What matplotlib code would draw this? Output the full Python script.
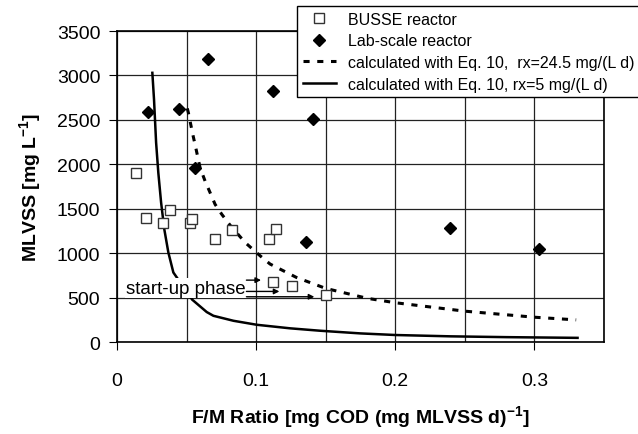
import matplotlib.pyplot as plt
from matplotlib.ticker import MultipleLocator

plt.rcParams['font.family'] = ['Liberation Sans', 'DejaVu Sans']

# BUSSE reactor (open squares)
busse_fm = [0.014, 0.021, 0.033, 0.038, 0.0525, 0.054, 0.0705, 0.083, 0.109, 0.114, 0.112, 0.126, 0.150]
busse_mlvss = [1900, 1400, 1340, 1490, 1340, 1390, 1160, 1265, 1165, 1275, 680, 630, 530]

# Lab-scale reactor (filled diamonds)
lab_fm = [0.022, 0.0446, 0.0655, 0.056, 0.112, 0.141, 0.136, 0.239, 0.303]
lab_mlvss = [2590, 2625, 3180, 1960, 2820, 2510, 1130, 1290, 1045]

# calculated curve, rx = 24.5 mg/(L d)
calc24_fm = [0.0505, 0.0513, 0.0542, 0.0566, 0.0597, 0.0633, 0.0669, 0.0705, 0.0753,
             0.0813, 0.0921, 0.1029, 0.110, 0.129, 0.150, 0.180, 0.200, 0.250, 0.300, 0.330]
calc24_mlvss = [2630, 2580, 2356, 2188, 1963, 1813, 1683, 1551, 1439,
                1316, 1122, 972, 880, 729, 606, 494, 445, 350, 282, 252]

# calculated curve, rx = 5 mg/(L d)
calc5_fm = [0.0254, 0.0266, 0.0281, 0.0297, 0.0317, 0.034, 0.0369, 0.0405, 0.054,
            0.0645, 0.0693, 0.0837, 0.1005, 0.1245, 0.146, 0.175, 0.200, 0.240, 0.280, 0.331]
calc5_mlvss = [3030, 2730, 2245, 1905, 1570, 1270, 1010, 785, 480,
               340, 298, 242, 197, 157, 130, 100, 82, 67, 58, 50]

# start-up phase arrows: end points
startup_fm = [0.1065, 0.1197, 0.1448]
startup_mlvss = [699, 572, 512]


def main():
    fig = plt.figure(figsize=(6.38, 4.35), dpi=100)
    ax = fig.add_axes([0.1834, 0.2108, 0.7633, 0.7156])

    ax.plot(calc24_fm, calc24_mlvss, color='black', lw=2.2, ls=(0, (2, 2.5)),
            label='calculated with Eq. 10,  rx=24.5 mg/(L d)', zorder=3)
    ax.plot(calc5_fm, calc5_mlvss, color='black', lw=1.8, ls='-',
            label='calculated with Eq. 10, rx=5 mg/(L d)', zorder=3)
    ax.plot(busse_fm, busse_mlvss, ls='none', marker='s', ms=7.5, mfc='white',
            mec='#333333', mew=1.0, label='BUSSE reactor', zorder=4)
    ax.plot(lab_fm, lab_mlvss, ls='none', marker='D', ms=6.5, mfc='black',
            mec='black', label='Lab-scale reactor', zorder=4)

    ax.text(0.0068, 610, 'start-up phase', fontsize=13.5, ha='left', va='center',
            bbox=dict(facecolor='white', edgecolor='none', pad=1), zorder=5)
    for fx, my in zip(startup_fm, startup_mlvss):
        ax.annotate('', xy=(fx - 0.003, my), xytext=(0.093, my),
                    arrowprops=dict(arrowstyle='-|>', color='black', lw=1,
                                    mutation_scale=8, shrinkA=0, shrinkB=0),
                    zorder=6)

    ax.set_xlim(0, 0.35)
    ax.set_ylim(0, 3500)
    ax.xaxis.set_minor_locator(MultipleLocator(0.05))
    ax.yaxis.set_major_locator(MultipleLocator(500))
    ax.set_xticks([0, 0.1, 0.2, 0.3])
    ax.set_xticklabels(['0', '0.1', '0.2', '0.3'])
    ax.grid(True, which='both', color='#222222', lw=0.9)
    ax.set_axisbelow(True)
    ax.tick_params(axis='both', which='major', labelsize=14, direction='out',
                   length=6, color='black')
    ax.tick_params(axis='x', which='major', pad=15.5)
    ax.tick_params(axis='y', which='major', pad=6)
    ax.tick_params(axis='x', which='minor', length=0)
    for s in ax.spines.values():
        s.set_color('black')
        s.set_linewidth(1.2)

    ax.set_xlabel('F/M Ratio [mg COD (mg MLVSS d)$^{\\mathregular{-1}}$]',
                  fontsize=14, fontweight='bold', labelpad=10)
    ax.set_ylabel('MLVSS [mg L$^{\\mathregular{-1}}$]', fontsize=14,
                  fontweight='bold', labelpad=9)

    h, l = ax.get_legend_handles_labels()
    order = [2, 3, 0, 1]
    leg = fig.legend([h[i] for i in order], [l[i] for i in order],
                     loc='upper left', bbox_to_anchor=(297 / 638, 1 - 7 / 435),
                     fontsize=11.5, frameon=True, fancybox=False, framealpha=1,
                     edgecolor='black', labelspacing=0.42, handlelength=2.1,
                     handletextpad=0.75, borderpad=0.35, borderaxespad=0)
    leg.get_frame().set_linewidth(1.0)

    fig.savefig('out.png', dpi=100)


if __name__ == '__main__':
    main()
